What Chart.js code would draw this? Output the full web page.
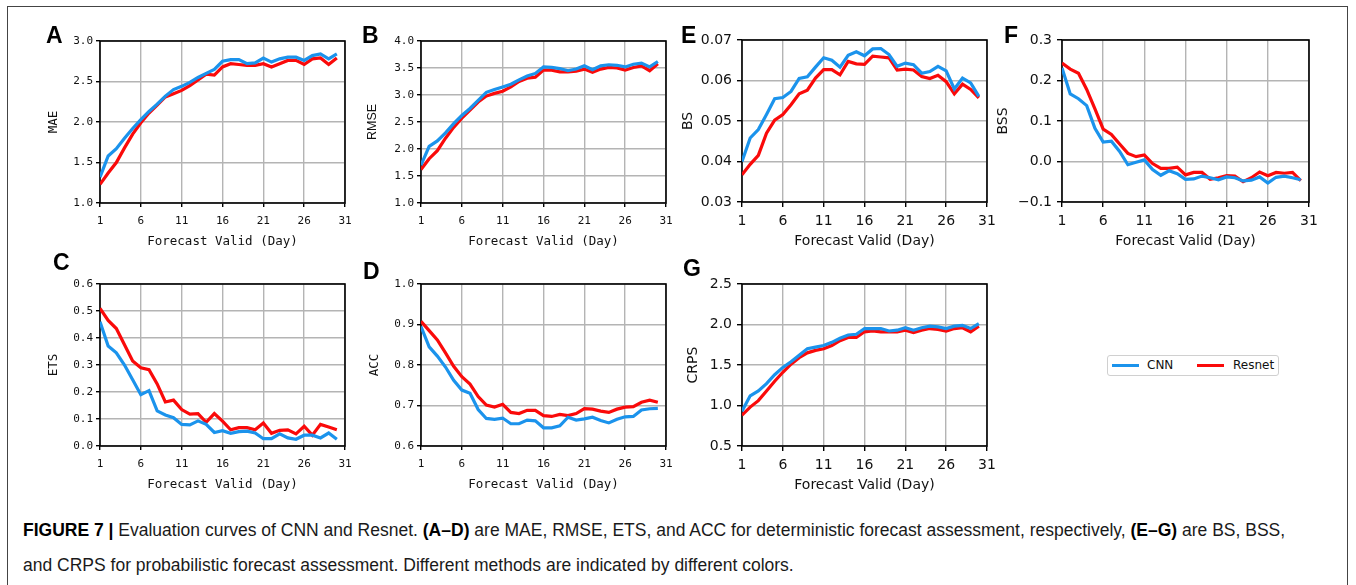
<!DOCTYPE html>
<html>
<head>
<meta charset="utf-8">
<script src="https://cdn.jsdelivr.net/npm/chart.js@4.4.1/dist/chart.umd.min.js"></script>
<style>
  body { margin: 0; background: #fff; }
  #page { position: relative; width: 1356px; height: 585px; overflow: hidden; background: #fff; }
  #frame { position: absolute; left: 7px; top: 6px; width: 1341px; height: 600px; border: 1.5px solid #444; box-sizing: border-box; }
  canvas { position: absolute; }
  .letter { position: absolute; font: bold 23px "Liberation Sans", Arial, sans-serif; line-height: 1; color: #000; }
  #legend { position: absolute; left: 1107px; top: 355px; width: 172px; height: 21px; border: 1px solid #d0d0d0; border-radius: 3px; box-sizing: border-box; font: 12px "DejaVu Sans", sans-serif; }
  #legend .sw { position: absolute; top: 8px; width: 27px; height: 3px; }
  #legend .lb { position: absolute; top: 2px; line-height: 15px; color: #111; }
  .cap { position: absolute; left: 23px; font: 17.5px "Liberation Sans", Arial, sans-serif; color: #1a1a1a; white-space: nowrap; line-height: 20px; }
  .cap b { color: #000; }
</style>
</head>
<body>
<div id="page">
  <div id="frame"></div>
</div>
<script>
// x axis: forecast days
const days = [1, 2, 3, 4, 5, 6, 7, 8, 9, 10, 11, 12, 13, 14, 15, 16, 17, 18, 19, 20, 21, 22, 23, 24, 25, 26, 27, 28, 29, 30];
const xTicks = [1, 6, 11, 16, 21, 26, 31];

// A - MAE
const maeCNN = [1.32, 1.58, 1.67, 1.80, 1.92, 2.03, 2.13, 2.22, 2.32, 2.40, 2.44, 2.49, 2.55, 2.60, 2.65, 2.75, 2.77, 2.77, 2.72, 2.73, 2.79, 2.74, 2.78, 2.80, 2.80, 2.76, 2.82, 2.84, 2.78, 2.84];
const maeRes = [1.23, 1.37, 1.50, 1.68, 1.85, 1.99, 2.11, 2.21, 2.31, 2.35, 2.39, 2.45, 2.52, 2.59, 2.58, 2.68, 2.72, 2.71, 2.70, 2.70, 2.72, 2.68, 2.72, 2.76, 2.76, 2.71, 2.78, 2.79, 2.71, 2.79];
const maeTicks = [1.0, 1.5, 2.0, 2.5, 3.0];

// B - RMSE
const rmseCNN = [1.70, 2.05, 2.15, 2.30, 2.47, 2.62, 2.75, 2.90, 3.05, 3.10, 3.15, 3.20, 3.28, 3.35, 3.40, 3.52, 3.51, 3.49, 3.45, 3.48, 3.54, 3.47, 3.54, 3.56, 3.55, 3.52, 3.57, 3.59, 3.52, 3.62];
const rmseRes = [1.62, 1.82, 1.97, 2.20, 2.40, 2.57, 2.72, 2.87, 2.98, 3.03, 3.07, 3.15, 3.25, 3.31, 3.33, 3.46, 3.46, 3.43, 3.43, 3.44, 3.48, 3.42, 3.48, 3.51, 3.50, 3.46, 3.51, 3.54, 3.45, 3.58];
const rmseTicks = [1.0, 1.5, 2.0, 2.5, 3.0, 3.5, 4.0];

// C - ETS
const etsCNN = [0.46, 0.37, 0.345, 0.30, 0.245, 0.19, 0.205, 0.13, 0.115, 0.105, 0.08, 0.078, 0.093, 0.08, 0.05, 0.057, 0.047, 0.053, 0.055, 0.048, 0.027, 0.027, 0.045, 0.03, 0.025, 0.04, 0.04, 0.03, 0.048, 0.025];
const etsRes = [0.51, 0.465, 0.435, 0.375, 0.315, 0.29, 0.283, 0.23, 0.163, 0.17, 0.135, 0.118, 0.12, 0.088, 0.12, 0.092, 0.06, 0.068, 0.068, 0.06, 0.085, 0.047, 0.058, 0.06, 0.045, 0.073, 0.04, 0.08, 0.07, 0.06];
const etsTicks = [0.0, 0.1, 0.2, 0.3, 0.4, 0.5, 0.6];

// D - ACC
const accCNN = [0.895, 0.845, 0.822, 0.795, 0.762, 0.738, 0.73, 0.69, 0.668, 0.666, 0.669, 0.655, 0.655, 0.664, 0.662, 0.645, 0.645, 0.65, 0.671, 0.664, 0.667, 0.671, 0.663, 0.657, 0.666, 0.672, 0.673, 0.689, 0.692, 0.693];
const accRes = [0.908, 0.885, 0.862, 0.83, 0.797, 0.771, 0.753, 0.722, 0.701, 0.696, 0.703, 0.683, 0.68, 0.688, 0.688, 0.675, 0.673, 0.678, 0.675, 0.68, 0.692, 0.691, 0.686, 0.683, 0.691, 0.696, 0.697, 0.708, 0.713, 0.708];
const accTicks = [0.6, 0.7, 0.8, 0.9, 1.0];

// E - BS
const bsCNN = [0.040, 0.0458, 0.0479, 0.0516, 0.0555, 0.0558, 0.0573, 0.0605, 0.0609, 0.0633, 0.0656, 0.0650, 0.0633, 0.0662, 0.0671, 0.0661, 0.0678, 0.0679, 0.0664, 0.0635, 0.0643, 0.0639, 0.0618, 0.0622, 0.0635, 0.0624, 0.0579, 0.0606, 0.0594, 0.0561];
const bsRes = [0.0367, 0.0393, 0.0415, 0.0470, 0.0502, 0.0516, 0.0540, 0.0567, 0.0576, 0.0606, 0.0627, 0.0627, 0.0614, 0.0647, 0.0641, 0.0640, 0.0660, 0.0658, 0.0656, 0.0626, 0.0628, 0.0626, 0.0610, 0.0605, 0.0613, 0.0597, 0.0567, 0.0591, 0.0578, 0.0557];
const bsTicks = [0.03, 0.04, 0.05, 0.06, 0.07];

// F - BSS
const bssCNN = [0.231, 0.167, 0.155, 0.138, 0.082, 0.048, 0.050, 0.025, -0.008, -0.002, 0.004, -0.020, -0.034, -0.023, -0.030, -0.044, -0.043, -0.036, -0.040, -0.045, -0.038, -0.040, -0.048, -0.046, -0.038, -0.053, -0.039, -0.036, -0.040, -0.045];
const bssRes = [0.243, 0.228, 0.218, 0.178, 0.130, 0.080, 0.067, 0.043, 0.020, 0.012, 0.016, -0.005, -0.017, -0.017, -0.014, -0.033, -0.027, -0.027, -0.044, -0.040, -0.035, -0.036, -0.050, -0.040, -0.026, -0.035, -0.027, -0.029, -0.027, -0.047];
const bssTicks = [-0.1, 0.0, 0.1, 0.2, 0.3];

// G - CRPS
const crpsCNN = [0.93, 1.12, 1.18, 1.27, 1.38, 1.47, 1.54, 1.62, 1.70, 1.72, 1.74, 1.78, 1.83, 1.87, 1.88, 1.95, 1.95, 1.95, 1.92, 1.93, 1.96, 1.93, 1.96, 1.98, 1.97, 1.95, 1.98, 1.99, 1.95, 2.01];
const crpsRes = [0.88, 0.98, 1.06, 1.18, 1.30, 1.41, 1.51, 1.59, 1.65, 1.68, 1.70, 1.74, 1.80, 1.84, 1.84, 1.91, 1.92, 1.91, 1.91, 1.91, 1.93, 1.90, 1.93, 1.95, 1.94, 1.92, 1.95, 1.96, 1.91, 1.98];
const crpsTicks = [0.5, 1.0, 1.5, 2.0, 2.5];

const blue = '#1b93ec';
const red = '#fa0a0a';
const mono = '"DejaVu Sans Mono", monospace';
const sans = '"DejaVu Sans", sans-serif';

const YW = 70, XH = 56, TOP = 14, RIGHT = 16;

const page = document.getElementById('page');

const boxPlugin = {
    id: 'box',
    beforeDatasetsDraw(chart) {
        const a = chart.chartArea;
        const ctx = chart.ctx;
        ctx.save();
        ctx.strokeStyle = '#000';
        ctx.lineWidth = 1.6;
        ctx.strokeRect(a.left, a.top, a.right - a.left, a.bottom - a.top);
        ctx.restore();
    }
};

function pts(vals) {
    return days.map((d, i) => ({ x: d, y: vals[i] }));
}

function panel(p) {
    const canvas = document.createElement('canvas');
    const cw = YW + p.w + RIGHT;
    const ch = TOP + p.h + XH;
    canvas.width = cw;
    canvas.height = ch;
    canvas.style.left = (p.l - YW) + 'px';
    canvas.style.top = (p.t - TOP) + 'px';
    canvas.style.width = cw + 'px';
    canvas.style.height = ch + 'px';
    page.appendChild(canvas);

    const tickFont = { family: p.font, size: p.tickSize };
    const titleFont = { family: p.titleFamily || p.font, size: p.titleSize };
    const lh = p.titleSize * 1.2;
    const yPad = (p.yTitleX - (p.l - YW)) - lh / 2;
    const xPad = XH - 39 - lh / 2;
    const tickLh = p.tickSize * 1.2;

    new Chart(canvas, {
        type: 'line',
        data: {
            datasets: [
                { label: 'CNN', data: pts(p.cnn), borderColor: blue, borderWidth: 3.2, pointRadius: 0, tension: 0 },
                { label: 'Resnet', data: pts(p.res), borderColor: red, borderWidth: 3.2, pointRadius: 0, tension: 0 }
            ]
        },
        options: {
            responsive: false,
            animation: false,
            events: [],
            layout: { padding: { top: TOP, right: RIGHT, left: 0, bottom: 0 } },
            plugins: { legend: { display: false }, tooltip: { enabled: false } },
            scales: {
                x: {
                    type: 'linear',
                    min: 1,
                    max: 31,
                    afterBuildTicks: s => { s.ticks = xTicks.map(v => ({ value: v })); },
                    afterFit: s => { s.height = XH; },
                    grid: { color: '#b4b4b4', lineWidth: 1.4, tickColor: '#000', tickLength: p.tl, tickWidth: 1.4 },
                    border: { display: false },
                    ticks: { font: tickFont, color: '#111', padding: p.xTickCenter - p.tl - tickLh / 2, maxRotation: 0, autoSkip: false, callback: v => String(v) },
                    title: { display: true, text: 'Forecast Valid (Day)', font: titleFont, color: '#111', padding: { top: 0, bottom: xPad } }
                },
                y: {
                    type: 'linear',
                    min: p.yTicks[0],
                    max: p.yTicks[p.yTicks.length - 1],
                    afterBuildTicks: s => { s.ticks = p.yTicks.map(v => ({ value: v })); },
                    afterFit: s => { s.width = YW; },
                    grid: { color: '#b4b4b4', lineWidth: 1.4, tickColor: '#000', tickLength: p.tl, tickWidth: 1.4 },
                    border: { display: false },
                    ticks: { font: tickFont, color: '#111', padding: p.yGap - p.tl, autoSkip: false,
                        callback: v => { const s = Number(v).toFixed(p.dec); return s.startsWith('-') ? '\u2212' + s.slice(1) : s; } },
                    title: { display: true, text: p.yTitle, font: { family: p.yTitleFamily || p.font, size: p.titleSize }, color: '#111', padding: { top: yPad, bottom: 0 } }
                }
            }
        },
        plugins: [boxPlugin]
    });

    const L = document.createElement('div');
    L.className = 'letter';
    L.textContent = p.letter;
    L.style.left = p.lx + 'px';
    L.style.top = (p.ly - 3) + 'px';
    page.appendChild(L);
}

const cnStyle = { font: mono, tickSize: 11, titleSize: 12.5, tl: 4, yGap: 7, xTickCenter: 18.5, dec: 1 };
const mplStyle = { font: sans, tickSize: 14, titleSize: 14, tl: 5, yGap: 10, xTickCenter: 19.7 };

panel(Object.assign({}, cnStyle, { l: 100, t: 41, w: 245, h: 162, cnn: maeCNN, res: maeRes, yTicks: maeTicks, yTitle: 'MAE', yTitleX: 54, letter: 'A', lx: 46, ly: 27 }));
panel(Object.assign({}, cnStyle, { l: 421, t: 41, w: 245, h: 162, cnn: rmseCNN, res: rmseRes, yTicks: rmseTicks, yTitle: 'RMSE', yTitleFamily: '"Liberation Sans", Arial, sans-serif', yTitleX: 373, letter: 'B', lx: 362, ly: 27 }));
panel(Object.assign({}, cnStyle, { l: 100, t: 284, w: 245, h: 162, cnn: etsCNN, res: etsRes, yTicks: etsTicks, yTitle: 'ETS', yTitleX: 54, letter: 'C', lx: 53, ly: 254 }));
panel(Object.assign({}, cnStyle, { l: 421, t: 284, w: 245, h: 162, cnn: accCNN, res: accRes, yTicks: accTicks, yTitle: 'ACC', yTitleX: 375, letter: 'D', lx: 363, ly: 263 }));
panel(Object.assign({}, mplStyle, { l: 742, t: 40, w: 245, h: 162, cnn: bsCNN, res: bsRes, yTicks: bsTicks, dec: 2, yTitle: 'BS', yTitleX: 688, letter: 'E', lx: 681, ly: 27 }));
panel(Object.assign({}, mplStyle, { l: 1062, t: 40, w: 247, h: 162, cnn: bssCNN, res: bssRes, yTicks: bssTicks, dec: 1, yTitle: 'BSS', yTitleX: 1003, letter: 'F', lx: 1004, ly: 27 }));
panel(Object.assign({}, mplStyle, { l: 742, t: 284, w: 245, h: 162, cnn: crpsCNN, res: crpsRes, yTicks: crpsTicks, dec: 1, yTitle: 'CRPS', yTitleX: 693, letter: 'G', lx: 683, ly: 260 }));

// legend
const leg = document.createElement('div');
leg.id = 'legend';
leg.innerHTML =
    '<div class="sw" style="left:4px;background:' + blue + '"></div><div class="lb" style="left:39px">CNN</div>' +
    '<div class="sw" style="left:89px;background:' + red + '"></div><div class="lb" style="left:125px">Resnet</div>';
page.appendChild(leg);

// caption
const cap1 = document.createElement('div');
cap1.className = 'cap';
cap1.style.top = '520px';
cap1.innerHTML = '<b>FIGURE 7 |</b> Evaluation curves of CNN and Resnet. <b>(A\u2013D)</b> are MAE, RMSE, ETS, and ACC for deterministic forecast assessment, respectively, <b>(E\u2013G)</b> are BS, BSS,';
page.appendChild(cap1);
const cap2 = document.createElement('div');
cap2.className = 'cap';
cap2.style.top = '555px';
cap2.textContent = 'and CRPS for probabilistic forecast assessment. Different methods are indicated by different colors.';
page.appendChild(cap2);
</script>
</body>
</html>
